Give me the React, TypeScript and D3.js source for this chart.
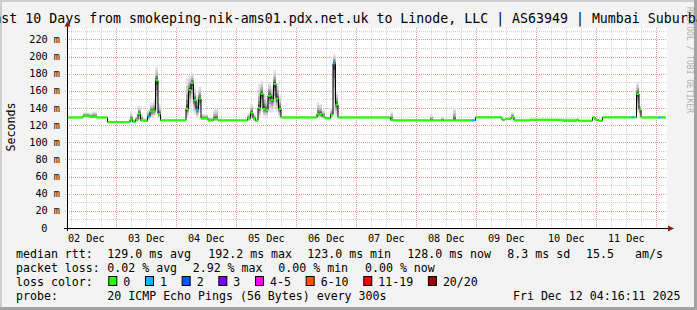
import React from 'react';
import * as d3 from 'd3';

// ---------- DATA ----------
const END_TIME = Date.UTC(2025, 11, 12, 4, 16, 11);
const SPAN_DAYS = 10;
const titleText = 'Last 10 Days from smokeping-nik-ams01.pdx.net.uk to Linode, LLC | AS63949 | Mumbai Suburban';
const yAxisTitle = 'Seconds';
const watermark = 'RRDTOOL / TOBI OETIKER';

// segment start (hours since graph start), median rtt (ms), smoke low/high (ms), loss count
const segHours = [0, 6.4, 8.8, 10, 12, 16.2, 25.2, 26.2, 27.4, 28.4, 29.4, 30.4, 32.2, 33.2, 34.4, 35.4, 36.4, 37.4,
  47.6, 48.6, 49.6, 50.6, 51.6, 52.6, 53.6, 56.4, 58.6, 60.4, 72.2, 73.4, 74.4, 75.4, 76.4, 77.4, 78.4, 79.4, 80.4,
  81.6, 82.6, 83.6, 84.6, 85.6, 100, 101, 102, 103.2, 105.4, 106.4, 107.4, 108.4, 129.4, 130.4, 145.2, 146.4, 149.6,
  150.6, 154.4, 155.6, 161.8, 163.4, 174, 175.2, 177.6, 178.8, 185.2, 198, 204, 204.6, 210.2, 211.2, 212.6, 214.2,
  225.8, 226.8, 227.8, 228.8, 229.6, 236.4, 237.6];
const segMedian = [129, 131, 129.5, 130, 129, 123.5, 126.5, 124, 126.5, 133.3, 126, 125, 130, 136, 137, 172.5, 133, 125.6,
  139, 161, 169, 149, 138, 151, 128, 125.6, 127, 125.6, 128, 134.2, 128, 125.2, 140, 156.7, 139, 138, 154.4,
  149.7, 168, 151, 139, 129, 133.3, 133, 130, 128, 132.2, 192.2, 144, 129, 126.3, 125.6, 125.6, 125.6, 125.6,
  125.6, 125.6, 125.6, 125.6, 129.1, 126.2, 127.3, 129.5, 125.6, 126.3, 125.2, 126.3, 125.2, 129.1, 126.3, 125.2, 129.1,
  129.1, 129.1, 156.4, 138, 129, 129, 129];
const segLo = [128, 129, 128, 128, 128, 123, 123, 123, 124, 126, 124, 124, 126, 128, 130, 135, 128, 125,
  128, 140, 145, 132, 128, 135, 126, 125, 125, 125, 125, 127, 125, 124, 128, 135, 130, 130, 135,
  135, 140, 135, 128, 128, 128, 128, 128, 127, 128, 135, 130, 128, 125, 125, 125, 125, 125,
  125, 125, 125, 125, 128.5, 125.5, 126.5, 126, 125, 125.8, 124.8, 125.8, 124.8, 128.5, 125.8, 124.8, 128.5,
  128.5, 128.5, 135, 130, 128.5, 128.5, 128.5];
const segHi = [130, 135, 134, 136, 130, 124, 135, 127, 130, 143, 133, 128, 138, 146, 150, 188, 145, 126,
  175, 178, 181, 165, 155, 165, 133, 129, 139, 126, 134, 145, 133, 127, 168, 172, 160, 150, 170,
  165, 185, 170, 155, 130, 147, 145, 138, 130, 140, 203, 160, 130, 136, 126, 132, 126, 130,
  126, 140, 126, 126, 130, 127, 128, 135, 126, 127, 128, 127, 126, 130, 127, 126, 130,
  130, 130, 171, 143, 130, 130, 130];
const segLoss = [0, 0, 0, 0, 0, 0, 0, 0, 0, 0, 0, 0, 1, 0, 0, 0, 0, 0,
  0, 0, 0, 0, 1, 0, 0, 0, 0, 0, 0, 0, 0, 0, 0, 0, 0, 0, 0,
  0, 0, 0, 0, 0, 0, 0, 0, 0, 0, 1, 0, 0, 0, 0, 0, 0, 0,
  0, 0, 0, 1, 0, 0, 0, 0, 0, 0, 0, 0, 0, 0, 0, 0, 0,
  1, 0, 0, 0, 0, 1, 0];
const dataEndHour = 239.6;

const yMax = 233.4;
const yMinorStep = 10;
const yMajorStep = 20;

const lossLegendLabels = ['0', '1', '2', '3', '4-5', '6-10', '11-19', '20/20'];
const lossLegendColors = ['#26ff00', '#00b8ff', '#0059ff', '#7e00ff', '#ff00ff', '#ff5500', '#ff0000', '#a10000'];

const rttLabel = 'median rtt:';
const rttStats = ['129.0 ms avg', '192.2 ms max', '123.0 ms min', '128.0 ms now', '8.3 ms sd', '15.5', 'am/s'];
const lossLabel = 'packet loss:';
const lossStats = ['0.02 % avg', '2.92 % max', '0.00 % min', '0.00 % now'];
const lossColorLabel = 'loss color:';
const probeLabel = 'probe:';
const probeText = '20 ICMP Echo Pings (56 Bytes) every 300s';
const dateText = 'Fri Dec 12 04:16:11 2025';

// ---------- LAYOUT ----------
const W = 697, H = 310;
const PL = 67, PR = 667, PT = 28, PB = 228;
const MONO = '"DejaVu Sans Mono", monospace';

export default function App() {
  const start = END_TIME - SPAN_DAYS * 24 * 3600e3;
  const x = d3.scaleUtc().domain([new Date(start), new Date(END_TIME)]).range([PL, PR]);
  const y = d3.scaleLinear().domain([0, yMax]).range([PB, PT]);
  const hx = (h: number) => x(new Date(start + h * 3600e3));

  const minorTimes = d3.utcHour.every(6)!.range(new Date(start), new Date(END_TIME));
  const dayTimes = d3.utcDay.range(new Date(start), new Date(END_TIME));
  const labelDays = d3.utcDay.range(d3.utcDay.floor(new Date(start)), new Date(END_TIME));
  const fmt = d3.utcFormat('%d %b');

  const yMinor = d3.range(0, yMax, yMinorStep);
  const yMajor = d3.range(0, yMax, yMajorStep);

  const segs = segHours.map((h, i) => ({
    x0: hx(h),
    x1: hx(i < segHours.length - 1 ? segHours[i + 1] : dataEndHour),
    m: segMedian[i], lo: segLo[i], hi: segHi[i], loss: segLoss[i],
  }));

  const layers = [
    { f: 1, c: '#e4e4e4' },
    { f: 0.75, c: '#cccccc' },
    { f: 0.5, c: '#a8a8a8' },
    { f: 0.3, c: '#7a7a7a' },
    { f: 0.14, c: '#444444' },
  ];

  const pts: [number, number][] = segs.map(s => [s.x0, y(s.m)]);
  pts.push([hx(dataEndHour), y(segMedian[segMedian.length - 1])]);
  const medLine = d3.line().curve(d3.curveStepAfter)(pts) || '';

  const cw = 6.98;
  const col2 = 107.3;
  const rttX = [col2, 208.3, 307.3, 407.3, 507.3, 586, 635];
  const lossX = [col2, 192.7, 278.3, 365];

  let lx = 108.3;
  const legendItems = lossLegendLabels.map((lab, i) => {
    const item = { x: lx, lab, c: lossLegendColors[i] };
    lx += 15 + lab.length * cw + 14.7;
    return item;
  });

  return (
    <svg width={W} height={H} style={{ display: 'block', position: 'absolute', left: 0, top: 0 }} fontFamily={MONO}>
      <rect x={0} y={0} width={W} height={H} fill="#f3f3f3" />
      <rect x={0} y={0} width={W} height={2} fill="#cfcfcf" />
      <rect x={0} y={0} width={2} height={H} fill="#cfcfcf" />
      <rect x={W - 3} y={0} width={3} height={H} fill="#a3a3a3" />
      <rect x={0} y={H - 3} width={W} height={3} fill="#a3a3a3" />

      {/* watermark */}
      <text transform={`translate(686.5,60) rotate(90)`} textAnchor="middle" fontSize={8} fill="#b0b0b0">{watermark}</text>

      {/* title */}
      <text x={348.5} y={23} textAnchor="middle" fontSize={13.25} fill="#000"
        textLength={titleText.length * 7.98} lengthAdjust="spacing">{titleText}</text>

      {/* plot bg */}
      <rect x={PL} y={PT} width={PR - PL} height={PB - PT} fill="#ffffff" />

      {/* minor grid */}
      {minorTimes.map((t, i) => (
        <line key={'vm' + i} x1={Math.round(x(t)) + 0.5} x2={Math.round(x(t)) + 0.5} y1={PT} y2={PB}
          stroke="#d2d2d2" strokeDasharray="1,1" />
      ))}
      {yMinor.map((v, i) => (
        <line key={'hm' + i} x1={PL} x2={PR} y1={Math.round(y(v)) + 0.5} y2={Math.round(y(v)) + 0.5}
          stroke="#d2d2d2" strokeDasharray="1,1" />
      ))}
      {/* major grid */}
      {dayTimes.map((t, i) => (
        <line key={'vM' + i} x1={Math.round(x(t)) + 0.5} x2={Math.round(x(t)) + 0.5} y1={PT} y2={PB + 2}
          stroke="#eb9a9a" strokeDasharray="1,1" />
      ))}
      {yMajor.map((v, i) => (
        <line key={'hM' + i} x1={PL - 2} x2={PR} y1={Math.round(y(v)) + 0.5} y2={Math.round(y(v)) + 0.5}
          stroke="#eb9a9a" strokeDasharray="1,1" />
      ))}

      {/* smoke */}
      {layers.map((L, li) => (
        <g key={'L' + li} fill={L.c}>
          {segs.map((s, i) => {
            const hi = s.m + (s.hi - s.m) * L.f;
            const lo = s.m - (s.m - s.lo) * L.f;
            const yt = y(hi), yb = y(lo);
            if (yb - yt < 0.6) return null;
            return <rect key={i} x={s.x0} y={yt} width={Math.max(0, s.x1 - s.x0)} height={yb - yt} />;
          })}
        </g>
      ))}

      {/* median line */}
      <path d={medLine} fill="none" stroke="#000" strokeWidth={1} />
      {segs.map((s, i) => (
        <rect key={'c' + i} x={s.x0} y={y(s.m) - 1.1} width={Math.max(0, s.x1 - s.x0)} height={2.2}
          fill={lossLegendColors[s.loss]} />
      ))}

      {/* axes */}
      <line x1={PL - 3} x2={PR + 2} y1={PB + 0.5} y2={PB + 0.5} stroke="#000" />
      <line x1={PL + 0.5} x2={PL + 0.5} y1={PB + 3} y2={PT - 4} stroke="#000" />
      <path d={`M${PR + 7},${PB + 0.5} L${PR + 1},${PB - 2.5} L${PR + 1},${PB + 3.5} Z`} fill="#8b1a1a" />
      <path d={`M${PL + 0.5},${PT - 7} L${PL - 2.5},${PT - 1.5} L${PL + 3.5},${PT - 1.5} Z`} fill="#8b1a1a" />

      {/* y labels */}
      {yMajor.map((v, i) => (
        <text key={'yl' + i} x={v === 0 ? 47.5 : 60} y={y(v) + 3.5} textAnchor="end" fontSize={10.2} fill="#000">
          {v === 0 ? '0' : `${v} m`}
        </text>
      ))}
      <text transform={`translate(15,127) rotate(-90)`} textAnchor="middle" fontSize={11.6} fill="#000">{yAxisTitle}</text>

      {/* x labels */}
      {labelDays.map((d, i) => {
        const noon = new Date(d.getTime() + 12 * 3600e3);
        const xp = x(noon);
        if (xp < PL || xp > PR) return null;
        return (
          <text key={'xl' + i} x={xp} y={241.5} textAnchor="middle" fontSize={10.2} fill="#000">{fmt(noon)}</text>
        );
      })}

      {/* legend */}
      <g fontSize={11.6} fill="#000" style={{ whiteSpace: 'pre' }}>
        <text x={16} y={258}>{rttLabel}</text>
        {rttStats.map((s, i) => <text key={'r' + i} x={rttX[i]} y={258}>{s}</text>)}
        <text x={16} y={272}>{lossLabel}</text>
        {lossStats.map((s, i) => <text key={'p' + i} x={lossX[i]} y={272}>{s}</text>)}
        <text x={16} y={286}>{lossColorLabel}</text>
        {legendItems.map((it, i) => (
          <g key={'lg' + i}>
            <rect x={it.x + 0.5} y={276.5} width={8} height={9} fill={it.c} stroke="#000" strokeWidth={1} />
            <text x={it.x + 15} y={286}>{it.lab}</text>
          </g>
        ))}
        <text x={16} y={300}>{probeLabel}</text>
        <text x={col2} y={300}>{probeText}</text>
        <text x={680.5} y={300} textAnchor="end">{dateText}</text>
      </g>
    </svg>
  );
}
